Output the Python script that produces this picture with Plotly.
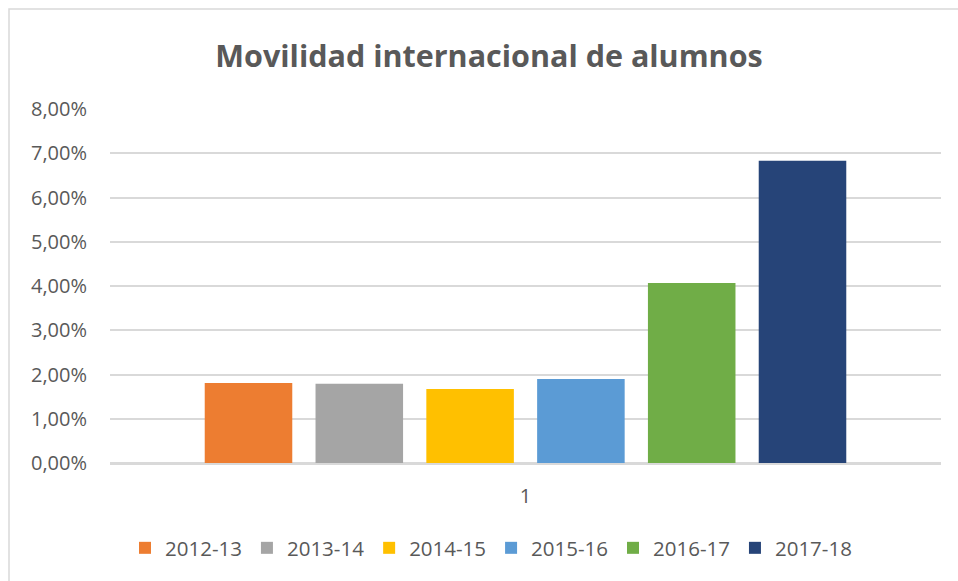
import plotly.graph_objects as go

categories = ["1"]
series_names = ["2012-13", "2013-14", "2014-15", "2015-16", "2016-17", "2017-18"]
series_values = [0.0181, 0.0179, 0.0167, 0.0190, 0.0407, 0.0683]
series_colors = ["#ED7D31", "#A5A5A5", "#FFC000", "#5B9BD5", "#70AD47", "#264478"]
y_ticks = [0, 0.01, 0.02, 0.03, 0.04, 0.05, 0.06, 0.07, 0.08]

FONT = "Open Sans"
GRAY = "#595959"

fig = go.Figure()
for name, val, col in zip(series_names, series_values, series_colors):
    fig.add_trace(go.Bar(x=categories, y=[val], name=name,
                         marker=dict(color=col, line=dict(width=0))))

W, H = 958, 581
L, R, T, B = 110, 17, 109, 118
pw, ph = W - L - R, H - T - B

def px_x(p):
    return (p - L) / pw

def px_y(p):
    return (H - B - p) / ph

fig.update_layout(
    width=W, height=H,
    margin=dict(l=L, r=R, t=T, b=B, pad=0),
    paper_bgcolor="white", plot_bgcolor="white",
    separators=",.",
    barmode="group", bargap=0.2, bargroupgap=0.21,
    font=dict(family=FONT, color=GRAY, size=20),
    title=dict(text="<b>Movilidad internacional de alumnos</b>",
               x=489 / W, xanchor="center", y=1 - 56 / H, yanchor="middle",
               yref="container", font=dict(family=FONT, size=30.5, color=GRAY)),
    showlegend=True,
    legend=dict(orientation="h", x=px_x(491), xanchor="center",
                y=px_y(548), yanchor="middle",
                font=dict(family=FONT, size=20.5, color=GRAY),
                itemwidth=30, traceorder="normal"),
    xaxis=dict(type="category", showgrid=False, showline=True,
               linecolor="#D9D9D9", linewidth=1.5, ticks="",
               ticklabelstandoff=14,
               tickfont=dict(family=FONT, size=20, color=GRAY)),
    yaxis=dict(range=[0, 0.08], tickvals=y_ticks, tickformat=".2%",
               showgrid=True, gridcolor="#D9D9D9", gridwidth=1.5,
               zeroline=True, zerolinecolor="#D9D9D9", zerolinewidth=1.5,
               showline=False, ticks="", ticklabelstandoff=22,
               tickfont=dict(family=FONT, size=20, color=GRAY)),
    shapes=[dict(type="rect", xref="paper", yref="paper",
                 x0=px_x(9), x1=px_x(965), y0=px_y(590), y1=px_y(9),
                 line=dict(color="#D9D9D9", width=1.5), fillcolor="rgba(0,0,0,0)",
                 layer="below")],
)

fig.write_html("out.html")
